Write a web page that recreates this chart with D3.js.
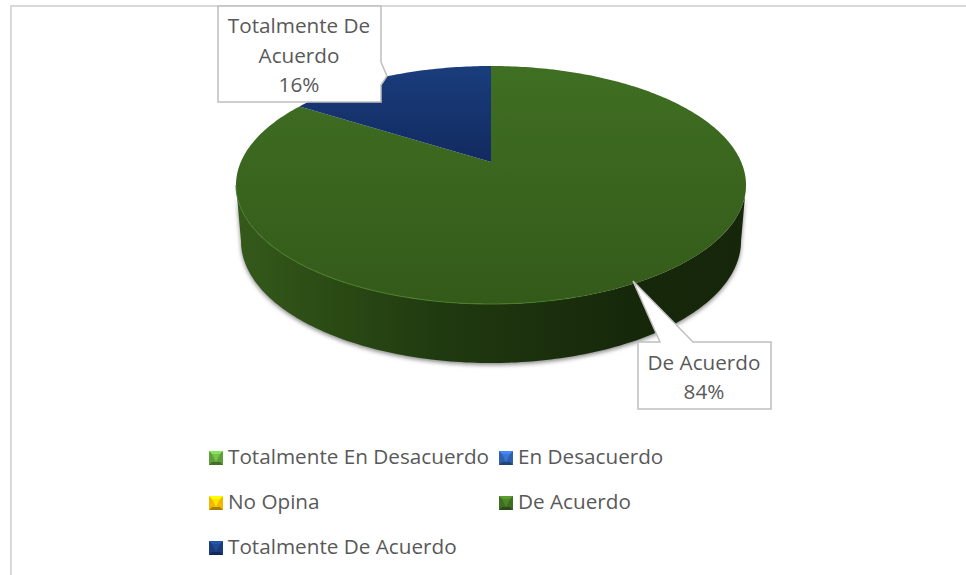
<!DOCTYPE html>
<html>
<head>
<meta charset="utf-8">
<script src="https://cdn.jsdelivr.net/npm/d3@7"></script>
<style>
html, body { margin: 0; padding: 0; background: #fff; overflow: hidden; }
text { font-family: "Open Sans", sans-serif; fill: #595959; }
</style>
</head>
<body>
<script>
const categories = ["Totalmente En Desacuerdo", "En Desacuerdo", "No Opina", "De Acuerdo", "Totalmente De Acuerdo"];
const percents = [0, 0, 0, 84, 16];
const colors = ["#5f9e3c", "#2f60ae", "#f2b800", "#3f6d22", "#1a3c7a"];

const width = 966, height = 575;
const fontSize = 20.7;

const svg = d3.select("body").append("svg")
    .attr("width", width)
    .attr("height", height);

const defs = svg.append("defs");

// chart frame, cropped at right and bottom
svg.append("path")
    .attr("d", "M11,575V6H966")
    .attr("fill", "none")
    .attr("stroke", "#d9d9d9")
    .attr("stroke-width", 2);

// perspective circle -> screen, fitted to the drawn ellipse
const persp = 0.1933;
function project(theta, level) {
    const u = Math.cos(theta), den = 1 + persp * u;
    const x = 250.2 * Math.sin(theta) / den;
    const y = (-83.24 * u + 162) / den;
    if (level === "bottom") return [491 + x * 250 / 255, 241 + (y - 185) * 122 / 119];
    return [491 + x, y];
}

function arcPoints(a0, a1, level) {
    const n = Math.max(2, Math.ceil(Math.abs(a1 - a0) * 60));
    return d3.range(n + 1).map((i) => project(a0 + (a1 - a0) * i / n, level));
}

const line = d3.line();
const pie = d3.pie().sort(null).value((d) => d);
const slices = pie(percents);

const frontStart = Math.acos(-persp);
const frontEnd = 2 * Math.PI - frontStart;

function gradient(id, x1, y1, x2, y2, stops) {
    const g = defs.append("linearGradient")
        .attr("id", id)
        .attr("gradientUnits", "userSpaceOnUse")
        .attr("x1", x1).attr("y1", y1).attr("x2", x2).attr("y2", y2);
    stops.forEach((s) => {
        g.append("stop").attr("offset", s[0]).attr("stop-color", s[1]).attr("stop-opacity", s[2] === undefined ? 1 : s[2]);
    });
}

gradient("wall3", 236, 0, 746, 0, [[0, "#35591b"], [0.2, "#2a4a14"], [0.4, "#203a10"], [0.6, "#1b300d"], [0.8, "#16270a"], [1, "#15260a"]]);
gradient("top3", 0, 66, 0, 304, [[0, "#3f6f22"], [1, "#345a1a"]]);
gradient("top4", 0, 66, 0, 162, [[0, "#1a3d7c"], [1, "#122a60"]]);
gradient("rim", 236, 0, 746, 0, [[0, "#4a7d28"], [0.55, "#4a7d28"], [0.75, "#4a7d28", 0]]);

defs.append("filter").attr("id", "soft")
    .attr("x", "-5%").attr("y", "-5%").attr("width", "110%").attr("height", "115%")
    .append("feGaussianBlur").attr("stdDeviation", 2.2);

// side wall
slices.forEach((s, i) => {
    const a0 = Math.max(s.startAngle, frontStart), a1 = Math.min(s.endAngle, frontEnd);
    if (a1 <= a0) return;
    const pts = arcPoints(a0, a1, "top").concat(arcPoints(a1, a0, "bottom"));
    svg.append("path")
        .attr("d", line(pts) + "Z")
        .attr("transform", "translate(0,2)")
        .attr("fill", "#888")
        .attr("filter", "url(#soft)");
    svg.append("path")
        .attr("d", line(pts) + "Z")
        .attr("fill", "url(#wall" + i + ")");
});

// top face
slices.forEach((s, i) => {
    if (s.endAngle <= s.startAngle) return;
    svg.append("path")
        .attr("d", line([[491, 162]].concat(arcPoints(s.startAngle, s.endAngle, "top"))) + "Z")
        .attr("fill", "url(#top" + i + ")");
    if (s.endAngle > frontStart && s.startAngle < frontEnd) {
        svg.append("path")
            .attr("d", line(arcPoints(Math.max(s.startAngle, frontStart), Math.min(s.endAngle, frontEnd), "top")))
            .attr("fill", "none")
            .attr("stroke", "url(#rim)")
            .attr("stroke-width", 1);
    }
});

// callouts
function callout(points, lines, cx, firstY, step) {
    svg.append("path")
        .attr("d", line(points) + "Z")
        .attr("fill", "#fff")
        .attr("stroke", "#bfbfbf")
        .attr("stroke-width", 1.5);
    lines.forEach((t, i) => {
        svg.append("text")
            .attr("x", cx)
            .attr("y", firstY + i * step)
            .attr("text-anchor", "middle")
            .attr("font-size", fontSize)
            .text(t);
    });
}

const total = d3.sum(percents);
const pct = (i) => Math.round(percents[i] / total * 100) + "%";

callout([[218, 6], [381, 6], [381, 62], [387, 76], [381, 85], [381, 102], [218, 102]],
    ["Totalmente De", "Acuerdo", pct(4)], 299, 33, 29.5);
callout([[638, 342], [660, 342], [633, 281], [693, 342], [771, 342], [771, 409], [638, 409]],
    [categories[3], pct(3)], 704, 370, 28.5);

// legend
const legendX = d3.scaleOrdinal().domain([0, 1]).range([209, 499]);
const legendY = d3.scaleOrdinal().domain([0, 1, 2]).range([451, 496, 541]);
const box = 14, inset = 3;

categories.forEach((name, i) => {
    const g = svg.append("g")
        .attr("transform", "translate(" + legendX(i % 2) + "," + legendY(Math.floor(i / 2)) + ")");
    const c = d3.color(colors[i]);
    g.append("rect").attr("width", box).attr("height", box).attr("fill", c.formatHex());
    g.append("path").attr("d", "M0,0H" + box + "L" + (box - inset) + "," + inset + "H" + inset + "Z")
        .attr("fill", c.brighter(1).formatHex());
    g.append("path").attr("d", "M0," + box + "H" + box + "L" + (box - inset) + "," + (box - inset) + "H" + inset + "Z")
        .attr("fill", c.darker(1).formatHex());
    g.append("path").attr("d", "M" + inset + "," + inset + "H" + (box - inset) + "L" + (box / 2) + "," + (box - inset) + "Z")
        .attr("fill", c.brighter(0.6).formatHex());
    g.append("text")
        .attr("x", 19)
        .attr("y", 12.5)
        .attr("font-size", fontSize)
        .text(name);
});
</script>
</body>
</html>
